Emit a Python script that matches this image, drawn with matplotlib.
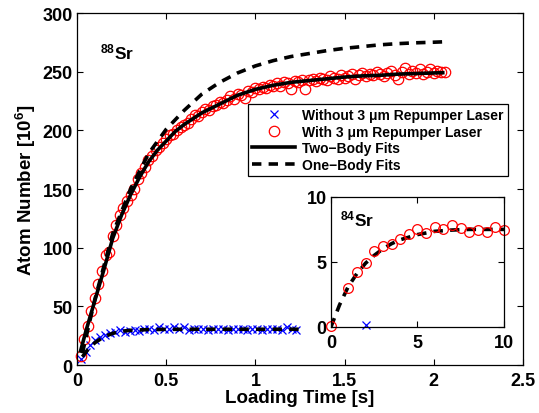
import matplotlib
matplotlib.use("Agg")
import matplotlib.pyplot as plt

plt.rcParams["font.family"] = ["Liberation Sans", "DejaVu Sans"]
plt.rcParams["font.weight"] = "bold"
plt.rcParams["mathtext.fontset"] = "custom"
plt.rcParams["mathtext.rm"] = "Liberation Sans:bold"
plt.rcParams["mathtext.default"] = "rm"

# 88Sr loading, with 3 um repumper (red circles)
red_t = [0.02, 0.04, 0.06, 0.08, 0.10, 0.12, 0.14, 0.16, 0.18, 0.20,
         0.22, 0.24, 0.26, 0.28, 0.30, 0.32, 0.34, 0.36, 0.38, 0.40,
         0.42, 0.44, 0.46, 0.48, 0.50, 0.52, 0.54, 0.56, 0.58, 0.60,
         0.62, 0.64, 0.66, 0.68, 0.70, 0.72, 0.74, 0.76, 0.78, 0.80,
         0.82, 0.84, 0.86, 0.88, 0.90, 0.92, 0.94, 0.96, 0.98, 1.00,
         1.02, 1.04, 1.06, 1.08, 1.10, 1.12, 1.14, 1.16, 1.18, 1.20,
         1.22, 1.24, 1.26, 1.28, 1.30, 1.32, 1.34, 1.36, 1.38, 1.40,
         1.42, 1.44, 1.46, 1.48, 1.50, 1.52, 1.54, 1.56, 1.58, 1.60,
         1.62, 1.64, 1.66, 1.68, 1.70, 1.72, 1.74, 1.76, 1.78, 1.80,
         1.82, 1.84, 1.86, 1.88, 1.90, 1.92, 1.94, 1.96, 1.98, 2.00,
         2.02, 2.04, 2.06]
red_n = [8, 22, 33, 46, 57, 69, 80, 94, 96, 110,
         119, 128, 134, 140, 145, 150, 159, 164, 169, 175,
         178, 183, 186, 189, 193, 196, 197, 200, 203, 205,
         206, 210, 213, 212, 216, 218, 217, 221, 222, 224,
         223, 226, 229, 227, 231, 230, 228, 234, 233, 236,
         235, 237, 236, 239, 238, 240, 238, 241, 240, 235,
         242, 241, 243, 235, 243, 244, 242, 245, 244, 243,
         246, 245, 244, 247, 245, 246, 248, 244, 247, 249,
         246, 248, 247, 250, 248, 246, 249, 251, 247, 244,
         250, 253, 248, 251, 249, 252, 248, 250, 252, 249,
         251, 250, 250]

# 88Sr loading, without repumper (blue crosses)
blue_t = [0.020, 0.048, 0.075, 0.103, 0.130, 0.158, 0.185, 0.213, 0.240, 0.268,
          0.295, 0.323, 0.350, 0.378, 0.405, 0.433, 0.460, 0.488, 0.515, 0.543,
          0.570, 0.598, 0.625, 0.653, 0.680, 0.708, 0.735, 0.763, 0.790, 0.818,
          0.845, 0.873, 0.900, 0.928, 0.955, 0.983, 1.010, 1.038, 1.065, 1.093,
          1.120, 1.148, 1.175, 1.203, 1.230]
blue_n = [5, 11, 17, 21, 24, 26, 27, 28, 29.5, 28,
          29, 30, 29, 30.5, 31, 30, 32, 30.5, 31, 32,
          31, 32.5, 30, 31, 30.5, 31, 30, 31, 30.5, 31,
          30, 31, 30.5, 31, 30, 30.5, 31, 30, 31, 30.5,
          31, 30, 32, 30.5, 30]

# fits
two_body_t = [0.02, 0.05, 0.10, 0.15, 0.20, 0.25, 0.30, 0.35, 0.40, 0.45,
              0.50, 0.55, 0.60, 0.65, 0.70, 0.80, 0.90, 1.00, 1.10, 1.20,
              1.30, 1.40, 1.50, 1.60, 1.70, 1.80, 1.90, 2.00, 2.05]
two_body_n = [12, 29, 55, 81, 108, 128, 145, 160, 173, 183,
              191, 199, 205, 210, 215, 222.5, 230, 235, 238.5, 241,
              242.5, 244, 245.5, 246.5, 247, 248, 248.5, 249, 249.2]
one_body_t = [0.03, 0.10, 0.20, 0.30, 0.40, 0.50, 0.60, 0.70, 0.80, 0.90,
              1.00, 1.10, 1.20, 1.30, 1.40, 1.50, 1.60, 1.70, 1.80, 1.90,
              2.00, 2.05]
one_body_n = [10, 56, 112, 150, 180, 201, 217, 231, 241, 249,
              255, 259.5, 263, 265.5, 268, 270, 271.5, 273, 274, 274.7,
              275.2, 275.5]
blue_fit_t = [0.03, 0.06, 0.10, 0.15, 0.20, 0.25, 0.30, 0.40, 0.50, 0.70, 1.00, 1.25]
blue_fit_n = [7, 13, 19, 24, 27, 28.8, 29.6, 30.2, 30.4, 30.5, 30.5, 30.5]

# 84Sr inset
sr84_t = [0, 1, 1.5, 2, 2.5, 3, 3.5, 4, 4.5, 5,
          5.5, 6, 6.5, 7, 7.5, 8, 8.5, 9, 9.5, 10]
sr84_n = [0.05, 2.97, 4.2, 4.93, 5.8, 6.26, 6.34, 6.78, 7.12, 7.56,
          7.25, 7.69, 7.5, 7.81, 7.61, 7.3, 7.43, 7.3, 7.69, 7.43]
sr84_blue_t = [2]
sr84_blue_n = [0.15]
sr84_fit_t = [0, 0.5, 1, 1.5, 2, 2.5, 3, 3.5, 4, 5, 6, 7, 8, 9, 10]
sr84_fit_n = [0, 1.7, 3.1, 4.1, 4.9, 5.5, 6.0, 6.4, 6.7, 7.1, 7.35, 7.45, 7.5, 7.5, 7.5]

LW = 2.6
DASH = (0, (2.6, 2.0))
TICK_FS = 13


def style_axes(ax):
    ax.tick_params(direction="in", top=True, right=True, length=4, width=0.8,
                   labelsize=TICK_FS)
    ax.tick_params(axis="x", pad=5)
    ax.tick_params(axis="y", pad=3)
    for lab in ax.get_xticklabels() + ax.get_yticklabels():
        lab.set_fontweight("bold")
    for sp in ax.spines.values():
        sp.set_linewidth(0.9)


fig = plt.figure(figsize=(5.39, 4.14), dpi=100)
ax = fig.add_axes([0.1429, 0.1159, 0.8275, 0.850])

ax.plot(blue_t, blue_n, "x", color="blue", ms=6, mew=0.9, clip_on=False,
        label="Without 3 \u03bcm Repumper Laser")
ax.plot(red_t, red_n, "o", color="red", mfc="none", ms=7.5, mew=0.9, clip_on=False,
        label="With 3 \u03bcm Repumper Laser")
ax.plot(two_body_t, two_body_n, "-", color="black", lw=LW, label="Two\u2212Body Fits")
ax.plot(one_body_t, one_body_n, linestyle=DASH, color="black", lw=LW,
        label="One\u2212Body Fits")
ax.plot(blue_fit_t, blue_fit_n, linestyle=DASH, color="black", lw=LW)

ax.set_xlim(0, 2.5)
ax.set_ylim(0, 300)
ax.set_xticks([0, 0.5, 1, 1.5, 2, 2.5])
ax.set_xticklabels(["0", "0.5", "1", "1.5", "2", "2.5"])
ax.set_yticks([0, 50, 100, 150, 200, 250, 300])
style_axes(ax)
ax.set_xlabel("Loading Time [s]", fontsize=13.5, fontweight="bold", labelpad=0)
ax.set_ylabel("Atom Number [10$^{6}$]", fontsize=13.5, fontweight="bold", labelpad=3)
ax.text(0.13, 261, "$^{88}$Sr", fontsize=12.5, fontweight="bold")

leg = ax.legend(loc="upper right", bbox_to_anchor=(0.966, 0.743),
                handlelength=3.1, handletextpad=0.5, labelspacing=0.2,
                borderpad=0.3, borderaxespad=0, fancybox=False, framealpha=1,
                edgecolor="black", prop={"weight": "bold", "size": 10})
leg.get_frame().set_linewidth(0.9)

ins = fig.add_axes([0.614, 0.208, 0.321, 0.314])
ins.plot(sr84_blue_t, sr84_blue_n, "x", color="blue", ms=6, mew=0.9, clip_on=False)
ins.plot(sr84_fit_t, sr84_fit_n, linestyle=DASH, color="black", lw=LW)
ins.plot(sr84_t, sr84_n, "o", color="red", mfc="none", ms=7, mew=0.9, clip_on=False)
ins.set_xlim(0, 10)
ins.set_ylim(0, 10)
ins.set_xticks([0, 5, 10])
ins.set_yticks([0, 5, 10])
style_axes(ins)
ins.text(0.55, 7.8, "$^{84}$Sr", fontsize=12.5, fontweight="bold")

fig.savefig("out.png", dpi=100, facecolor="white")
